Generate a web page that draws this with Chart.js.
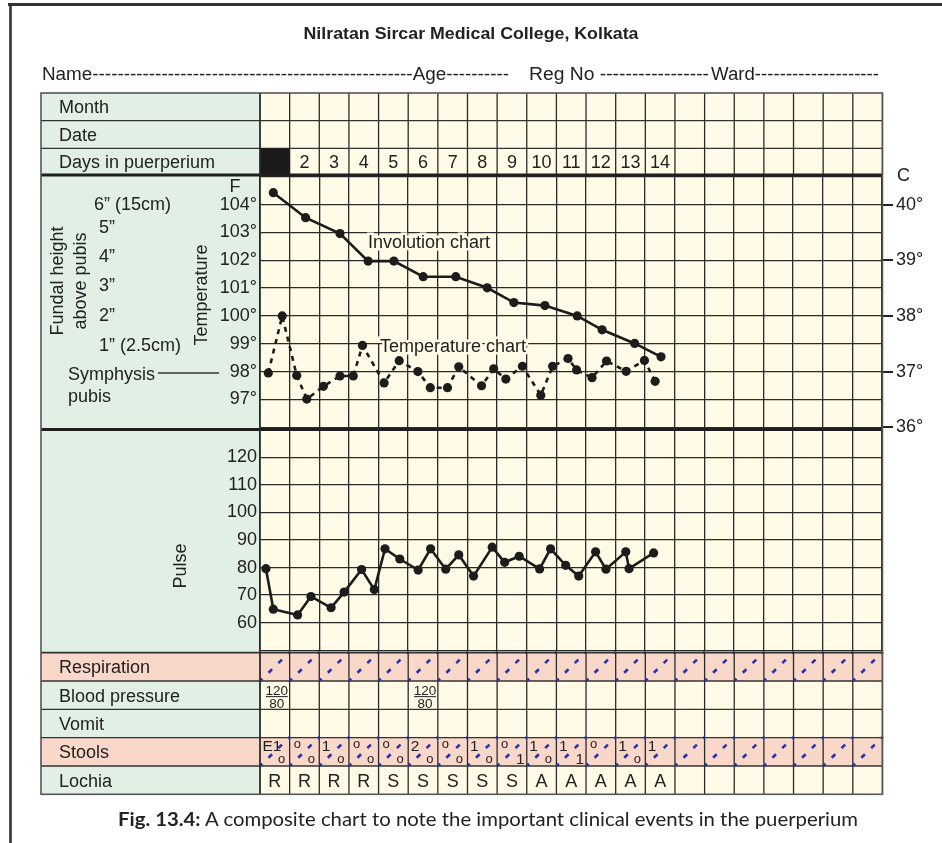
<!DOCTYPE html>
<html>
<head>
<meta charset="utf-8">
<script src="https://cdn.jsdelivr.net/npm/chart.js@4/dist/chart.umd.min.js"></script>
<style>
  html, body { margin: 0; padding: 0; background: #fff; }
  #page { position: relative; width: 942px; height: 843px; overflow: hidden; }
  #page svg, #page canvas { position: absolute; }
  text { font-family: 'Liberation Sans', Arial, sans-serif; fill: #222; }
</style>
</head>
<body>
<div id="page">
  <svg id="under" width="942" height="843" style="left:0;top:0"></svg>
  <canvas id="tempChart" width="901" height="278" style="left:41px;top:163px"></canvas>
  <canvas id="pulseChart" width="901" height="248" style="left:41px;top:416px"></canvas>
  <svg id="over" width="942" height="843" style="left:0;top:0"></svg>
</div>
<script>
// ---- chart data ----
const dayNumbers = [1, 2, 3, 4, 5, 6, 7, 8, 9, 10, 11, 12, 13, 14];
const totalColumns = 21;

// involution (fundal height) is plotted on the same scale as the temperature
const involutionDay = [0.45, 1.54, 2.70, 3.65, 4.52, 5.51, 6.61, 7.67, 8.57, 9.62, 10.71, 11.55, 12.65, 13.54];
const involutionLevel = [104.43, 103.53, 102.96, 101.97, 101.97, 101.41, 101.41, 101.01, 100.48, 100.37, 100.0, 99.50, 99.01, 98.53];

const tempDay = [0.28, 0.75, 1.24, 1.58, 2.14, 2.70, 3.15, 3.46, 4.19, 4.70, 5.33, 5.75, 6.33, 6.71,
                 7.48, 7.89, 8.30, 8.86, 9.48, 9.88, 10.40, 10.69, 11.21, 11.70, 12.36, 12.98, 13.34];
const tempF = [97.95, 100.0, 97.86, 97.01, 97.47, 97.84, 97.84, 98.94, 97.59, 98.39, 98.0, 97.42, 97.42, 98.17,
               97.49, 98.1, 97.73, 98.19, 97.15, 98.19, 98.47, 98.06, 97.78, 98.38, 98.01, 98.4, 97.65];

const pulseDay = [0.20, 0.45, 1.27, 1.72, 2.40, 2.84, 3.43, 3.86, 4.22, 4.72, 5.34, 5.76, 6.27, 6.71,
                  7.21, 7.84, 8.26, 8.75, 9.44, 9.81, 10.32, 10.76, 11.33, 11.68, 12.35, 12.46, 13.29];
const pulseBpm = [79.6, 64.9, 62.8, 69.5, 65.4, 71.1, 79.3, 72.0, 86.8, 83.1, 79.1, 86.8, 79.4, 84.6,
                  76.9, 87.4, 81.9, 84.1, 79.5, 86.8, 80.8, 76.9, 85.7, 79.4, 85.7, 79.6, 85.3];

const fahrenheitTicks = [97, 98, 99, 100, 101, 102, 103, 104];
const celsiusTicks = [36, 37, 38, 39, 40];
const pulseTicks = [60, 70, 80, 90, 100, 110, 120];
const fundalLabels = ['6\u201D (15cm)', '5\u201D', '4\u201D', '3\u201D', '2\u201D', '1\u201D (2.5cm)'];

const topRowLabels = ['Month', 'Date', 'Days in puerperium'];
const bottomRowLabels = ['Respiration', 'Blood pressure', 'Vomit', 'Stools', 'Lochia'];
const lochia = ['R', 'R', 'R', 'R', 'S', 'S', 'S', 'S', 'S', 'A', 'A', 'A', 'A', 'A'];
const stoolsTop = ['E1', 'o', '1', 'o', 'o', '2', 'o', '1', 'o', '1', '1', 'o', '1', '1'];
const stoolsBottom = ['o', 'o', 'o', 'o', 'o', 'o', 'o', 'o', '1', 'o', '1', '', 'o', ''];
const bpDays = [1, 6];
const bpSystolic = [120, 120];
const bpDiastolic = [80, 80];

// ---- layout ----
const X0 = 41, XL = 260, CW = 29.64, XR = XL + CW * totalColumns;
const topRows = [93, 120.7, 148.3, 175];
const TEMP_BOTTOM = 429.5;
const botRows = [652.7, 681, 709.3, 737.7, 766, 794.3];
const green = '#e1efe4', cream = '#fffbe6', pink = '#f9d7c9', ink = '#1c1c1c', gridColor = '#2a2a2a';

const NS = 'http://www.w3.org/2000/svg';
function svgEl(parent, tag, attrs, text) {
  const e = document.createElementNS(NS, tag);
  for (const k in attrs) e.setAttribute(k, attrs[k]);
  if (text !== undefined) e.textContent = text;
  parent.appendChild(e);
  return e;
}
function line(p, x1, y1, x2, y2, stroke, w) {
  return svgEl(p, 'line', { x1, y1, x2, y2, stroke, 'stroke-width': w });
}
function txt(p, x, y, s, size, extra) {
  return svgEl(p, 'text', Object.assign({ x, y, 'font-size': size }, extra || {}), s);
}

const under = document.getElementById('under');
const over = document.getElementById('over');

// backgrounds
svgEl(under, 'rect', { x: X0, y: topRows[0], width: XL - X0, height: botRows[5] - topRows[0], fill: green });
svgEl(under, 'rect', { x: XL, y: topRows[0], width: XR - XL, height: botRows[5] - topRows[0], fill: cream });
[0, 3].forEach(r => svgEl(under, 'rect', { x: X0, y: botRows[r], width: XR - X0, height: botRows[r + 1] - botRows[r], fill: pink }));

// frame
line(over, 8, 4.6, 942, 4.6, '#333', 3);
line(over, 10.5, 3, 10.5, 843, '#333', 2.6);

// header
txt(over, 471, 39, 'Nilratan Sircar Medical College, Kolkata', 16, { 'font-weight': 'bold', 'text-anchor': 'middle', textLength: 335, lengthAdjust: 'spacingAndGlyphs' });
txt(over, 42, 80, 'Name---------------------------------------------------Age----------', 18, { textLength: 467, lengthAdjust: 'spacingAndGlyphs' });
txt(over, 529, 80, 'Reg No -----------------', 18, { textLength: 180, lengthAdjust: 'spacingAndGlyphs' });
txt(over, 711, 80, 'Ward--------------------', 18, { textLength: 168, lengthAdjust: 'spacingAndGlyphs' });

// top rows grid
for (let k = 0; k <= totalColumns; k++) {
  const x = XL + CW * k;
  line(over, x, topRows[0], x, topRows[3], gridColor, 1.3);
  line(over, x, botRows[0], x, botRows[5], gridColor, 1.3);
}
[1, 2].forEach(r => line(over, X0, topRows[r], XR, topRows[r], '#333', 1.3));
[1, 2, 3, 4].forEach(r => line(over, X0, botRows[r], XR, botRows[r], '#333', 1.3));
topRowLabels.forEach((s, r) => txt(over, 59, (topRows[r] + topRows[r + 1]) / 2 + 6.5, s, 18));
bottomRowLabels.forEach((s, r) => txt(over, 59, (botRows[r] + botRows[r + 1]) / 2 + 6.5, s, 18));

// days in puerperium
dayNumbers.forEach((d, i) => {
  if (d === 1) {
    svgEl(over, 'rect', { x: XL, y: topRows[2], width: CW, height: topRows[3] - topRows[2], fill: '#1a1a1a' });
  } else {
    txt(over, XL + CW * (i + 0.5), 167.8, String(d), 18, { 'text-anchor': 'middle' });
  }
});

// diagonal dashed marks in respiration and stools rows
[0, 3].forEach(r => {
  for (let k = 0; k < totalColumns; k++) {
    const L = XL + CW * k;
    svgEl(over, 'line', { x1: L + 0.5, y1: botRows[r + 1] - 0.5, x2: L + CW + 0.5, y2: botRows[r] - 1,
      stroke: '#2433b0', 'stroke-width': 2.6, 'stroke-dasharray': '5 8.7', 'stroke-dashoffset': 2.5 });
  }
});

// blood pressure
bpDays.forEach((d, i) => {
  const cx = XL + CW * (d - 0.5) + 2;
  txt(over, cx, 695, String(bpSystolic[i]), 13.5, { 'text-anchor': 'middle' });
  line(over, cx - 11, 696.6, cx + 11, 696.6, '#333', 1.1);
  txt(over, cx, 707.5, String(bpDiastolic[i]), 13.5, { 'text-anchor': 'middle' });
});

// stools
stoolsTop.forEach((s, i) => {
  const L = XL + CW * i;
  if (s === 'o') txt(over, L + 4, 748, s, 13);
  else if (s) txt(over, L + 2.5, 751, s, 15.5);
  const b = stoolsBottom[i];
  if (b === 'o') txt(over, L + 18, 763, b, 13);
  else if (b) txt(over, L + 19, 764, b, 15.5);
});

// lochia
lochia.forEach((s, i) => txt(over, XL + CW * (i + 0.5), 786.5, s, 18, { 'text-anchor': 'middle' }));

// thick separators and table border
line(over, X0, topRows[3], XR, topRows[3], '#1f1f1f', 2.8);
line(over, X0, TEMP_BOTTOM, XR, TEMP_BOTTOM, '#1f1f1f', 2.8);
line(over, X0, botRows[0], XR, botRows[0], '#333', 1.8);
line(over, XL, topRows[0], XL, botRows[5], gridColor, 1.4);
svgEl(over, 'rect', { x: X0, y: topRows[0], width: XR - X0, height: botRows[5] - topRows[0], fill: 'none', stroke: '#555', 'stroke-width': 1.6 });

// left column labels in the temperature block
txt(over, 235, 191.5, 'F', 18, { 'text-anchor': 'middle' });
const fundalY = [203, 226.7, 255.7, 284, 314, 344];
fundalLabels.forEach((s, i) => txt(over, i === 0 ? 94 : 99, fundalY[i] + 6.5, s, 18));
txt(over, 68, 379.5, 'Symphysis', 18);
line(over, 158, 373, 219, 373, '#333', 1.3);
txt(over, 68, 401.5, 'pubis', 18);
txt(over, 0, 0, 'Fundal height', 18, { transform: 'translate(57,281) rotate(-90)', 'text-anchor': 'middle', 'dominant-baseline': 'central' });
txt(over, 0, 0, 'above pubis', 18, { transform: 'translate(80,281) rotate(-90)', 'text-anchor': 'middle', 'dominant-baseline': 'central' });
txt(over, 0, 0, 'Temperature', 18, { transform: 'translate(201,295) rotate(-90)', 'text-anchor': 'middle', 'dominant-baseline': 'central' });
txt(over, 0, 0, 'Pulse', 18, { transform: 'translate(180,566) rotate(-90)', 'text-anchor': 'middle', 'dominant-baseline': 'central' });
txt(over, 897, 180.5, 'C', 18);

// annotations on the plot
const halo = { stroke: cream, 'stroke-width': 5, 'paint-order': 'stroke', fill: '#2a2a2a' };
txt(over, 368, 248, 'Involution chart', 18, halo);
txt(over, 380, 351.5, 'Temperature chart', 18, halo);

// caption
const cap = txt(over, 118, 826, '', 19, { textLength: 740, lengthAdjust: 'spacingAndGlyphs', style: "font-family:'Lato','Open Sans',sans-serif" });
svgEl(cap, 'tspan', { 'font-weight': 'bold' }, 'Fig. 13.4:');
svgEl(cap, 'tspan', {}, ' A composite chart to note the important clinical events in the puerperium');

// ---- charts ----
Chart.defaults.font.family = "'Liberation Sans', Arial, sans-serif";

const xScale = {
  type: 'linear', min: 0, max: totalColumns,
  ticks: { display: false, stepSize: 1 },
  grid: { color: gridColor, lineWidth: 1.3, drawTicks: false },
  border: { display: false },
  afterFit: s => { s.height = 0; }
};

function pointSeries(xs, ys) {
  return xs.map((x, i) => ({ x: x, y: ys[i] }));
}

const lineStyle = {
  borderColor: ink, backgroundColor: ink, borderWidth: 2.6,
  pointRadius: 4.6, pointBorderWidth: 0, pointBackgroundColor: ink, tension: 0
};

new Chart(document.getElementById('tempChart'), {
  type: 'line',
  data: {
    datasets: [
      Object.assign({ label: 'Involution chart', data: pointSeries(involutionDay, involutionLevel), yAxisID: 'y' }, lineStyle),
      Object.assign({ label: 'Temperature chart', data: pointSeries(tempDay, tempF), yAxisID: 'y', borderDash: [5, 5] }, lineStyle)
    ]
  },
  options: {
    responsive: false, animation: false, events: [],
    layout: { padding: { top: 12, bottom: 12, left: 0, right: 0 } },
    plugins: { legend: { display: false }, tooltip: { enabled: false } },
    scales: {
      x: xScale,
      y: {
        position: 'left', min: 96, max: 105,
        ticks: { stepSize: 1, padding: 3, color: '#222', font: { size: 18 },
          callback: v => fahrenheitTicks.includes(v) ? v + '\u00B0' : '' },
        grid: { color: gridColor, lineWidth: 1.3, drawTicks: false },
        border: { display: true, color: gridColor, width: 1.3 },
        afterFit: s => { s.width = XL - X0; }
      },
      yC: {
        position: 'right', min: 36, max: 40.5,
        ticks: { stepSize: 1, includeBounds: false, padding: 3, color: '#222', font: { size: 18 },
          callback: v => celsiusTicks.includes(v) ? v + '\u00B0' : '' },
        grid: { drawOnChartArea: false, drawTicks: true, tickLength: 11, color: '#222', lineWidth: 2 },
        border: { display: true, color: gridColor, width: 1.3 },
        afterFit: s => { s.width = 60; }
      }
    }
  }
});

new Chart(document.getElementById('pulseChart'), {
  type: 'line',
  data: {
    datasets: [
      Object.assign({ label: 'Pulse', data: pointSeries(pulseDay, pulseBpm) }, lineStyle)
    ]
  },
  options: {
    responsive: false, animation: false, events: [],
    layout: { padding: { top: 12, bottom: 12, left: 0, right: 60 } },
    plugins: { legend: { display: false }, tooltip: { enabled: false } },
    scales: {
      x: xScale,
      y: {
        position: 'left', min: 50, max: 130,
        ticks: { stepSize: 10, padding: 3, color: '#222', font: { size: 18 },
          callback: v => pulseTicks.includes(v) ? String(v) : '' },
        grid: { color: gridColor, lineWidth: 1.3, drawTicks: false },
        border: { display: true, color: gridColor, width: 1.3 },
        afterFit: s => { s.width = XL - X0; }
      }
    }
  }
});
</script>
</body>
</html>
